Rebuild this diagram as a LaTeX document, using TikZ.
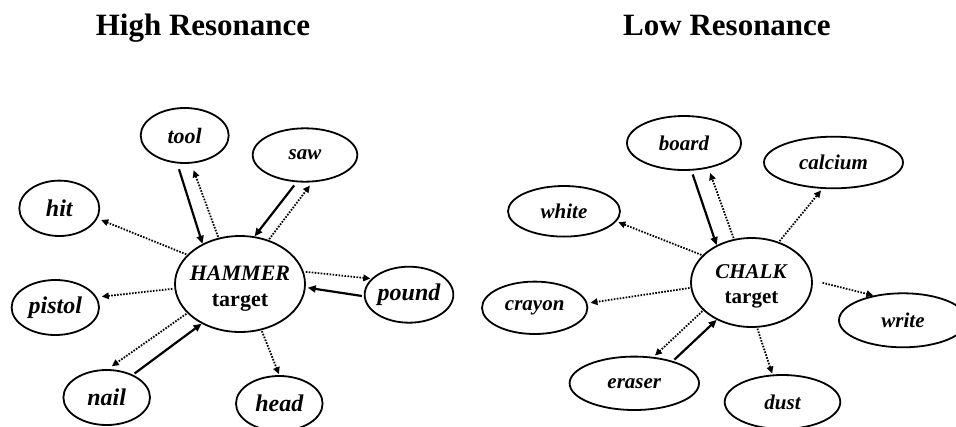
\documentclass[tikz,border=0pt]{standalone}
\usepackage{fontspec}
\setmainfont{Liberation Serif}
\usetikzlibrary{shapes.geometric,arrows.meta}
\tikzset{
  word/.style={ellipse, draw, line width=1.8pt, inner sep=0pt,
    font=\fontsize{21}{21}\selectfont\bfseries\itshape},
  bigword/.style={word, font=\fontsize{24}{24}\selectfont\bfseries\itshape},
  hub/.style={ellipse, draw, line width=1.8pt, inner sep=0pt,
    font=\fontsize{22}{25}\selectfont\bfseries},
  headline/.style={anchor=base, font=\fontsize{31}{31}\selectfont\bfseries},
  strong/.style={-{Triangle[length=8pt,width=7pt]}, line width=2.2pt},
  weak/.style={-{Triangle[length=7pt,width=6.5pt]}, line width=1.8pt, dash pattern=on 1.6pt off 1.4pt},
}
\newcommand{\hubtext}[1]{\makebox[0pt]{\raisebox{-4pt}[\height][\depth]{\begin{tabular}{@{}c@{}}\textit{#1}\\[1pt] target\end{tabular}}}}
\begin{document}
\begin{tikzpicture}[x=1pt,y=-1pt]
\useasboundingbox (0,0) rectangle (956,426);
\clip (0,0) rectangle (956,426);
% titles
\node[headline] (t1) at (203,35) {High Resonance};
\node[headline] (t2) at (727,35) {Low Resonance};
% ---- left panel
\node[hub, minimum width=130pt, minimum height=96pt] (H) at (240,284) {\hubtext{HAMMER}};
\node[word, font=\fontsize{22}{22}\selectfont\bfseries\itshape, minimum width=88pt, minimum height=55pt] (tool) at (184.7,135.5) {tool};
\node[word, minimum width=104.6pt, minimum height=53.4pt] (saw) at (305,155) {saw};
\node[bigword, minimum width=80pt, minimum height=55.4pt] (hit) at (59.3,208.3) {hit};
\node[bigword, minimum width=87.4pt, minimum height=55pt] (pistol) at (55.3,307.5) {pistol};
\node[bigword, minimum width=86.6pt, minimum height=56pt] (pound) at (409,294.7) {pound};
\node[bigword, minimum width=86.6pt, minimum height=55pt] (nail) at (106.7,397.5) {nail};
\node[bigword, minimum width=86.6pt, minimum height=55pt] (head) at (279.3,403.5) {head};
\draw[strong, shorten <=6pt, shorten >=0pt] (tool.-105) -- (H.133);
\draw[weak, shorten <=1pt, shorten >=7pt] (H.115) -- (tool.-77);
\draw[strong, shorten <=4pt, shorten >=0pt] (saw.-107) -- (H.73);
\draw[weak, shorten <=1pt, shorten >=4pt] (H.57) -- (saw.-75);
\draw[weak, shorten <=1pt, shorten >=4pt] (H.151) -- (hit.-15);
\draw[weak, shorten <=2pt, shorten >=5pt] (H.184) -- (pistol.14);
\draw[weak, shorten <=2pt, shorten >=1pt] (H.11) -- (pound.157);
\draw[strong, shorten <=2pt, shorten >=2pt] (pound.182) -- (H.-3);
\draw[weak, shorten <=1pt, shorten >=5pt] (H.209) -- (nail.88);
\draw[strong, shorten <=2pt, shorten >=0pt] (nail.41) -- (H.226);
\draw[weak, shorten <=1pt, shorten >=1pt] (H.-65) -- (head.90);
% ---- right panel
\node[hub, font=\fontsize{21}{24}\selectfont\bfseries, minimum width=121pt, minimum height=89pt] (C) at (751.5,282.5) {\hubtext{CHALK}};
\node[word, minimum width=114pt, minimum height=54pt] (board) at (684,143) {board};
\node[word, minimum width=139pt, minimum height=51.6pt] (calcium) at (833.5,162.5) {calcium};
\node[word, minimum width=112pt, minimum height=50.6pt] (white) at (564,211.3) {white};
\node[word, minimum width=105.4pt, minimum height=52.4pt] (crayon) at (534.7,307.8) {crayon};
\node[word, minimum width=128pt, minimum height=54pt] (write) at (903,320.3) {write};
\node[word, minimum width=129.4pt, minimum height=53.4pt] (eraser) at (634.3,383.3) {eraser};
\node[word, minimum width=115.6pt, minimum height=54pt] (dust) at (782.5,402) {dust};
\draw[strong, shorten <=4pt, shorten >=0pt] (board.-75) -- (C.133);
\draw[weak, shorten <=1pt, shorten >=5pt] (C.112) -- (board.-46);
\draw[weak, shorten <=1pt, shorten >=2pt] (C.56) -- (calcium.-113);
\draw[weak, shorten <=1pt, shorten >=2pt] (C.151) -- (white.-11);
\draw[weak, shorten <=1pt, shorten >=3pt] (C.185) -- (crayon.5);
\draw[weak, shorten <=10pt, shorten >=0pt] (C.2) -- (write.140);
\draw[weak, shorten <=1pt, shorten >=2pt] (C.210) -- (eraser.54);
\draw[strong, shorten <=2pt, shorten >=0pt] (eraser.30) -- (C.227);
\draw[weak, shorten <=1pt, shorten >=1pt] (C.-83) -- (dust.110);
\end{tikzpicture}
\end{document}
